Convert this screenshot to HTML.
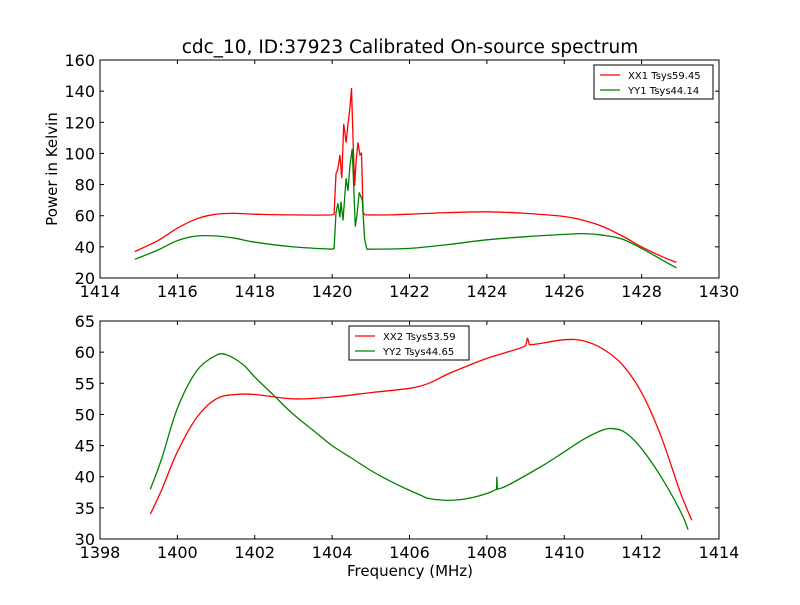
<!DOCTYPE html>
<html><head><meta charset="utf-8"><style>
body{margin:0;background:#fff}
svg{font-family:"DejaVu Sans","Liberation Sans",sans-serif}
</style></head><body>
<svg id="c" width="800" height="600">
<rect width="800" height="600" fill="#fff"/>
<text x="410" y="53" font-size="18.5" text-anchor="middle">cdc_10, ID:37923 Calibrated On-source spectrum</text>
<text x="57" y="169" font-size="15" text-anchor="middle" transform="rotate(-90 57 169)">Power in Kelvin</text>
<text x="410" y="576" font-size="15" text-anchor="middle">Frequency (MHz)</text>
<g id="g"></g>
</svg>
<script>
const topRedX=[1414.9,1415.5,1416,1416.5,1417,1417.5,1418,1419,1420,1420.05,1420.1,1420.15,1420.2,1420.25,1420.3,1420.36,1420.41,1420.46,1420.5,1420.54,1420.58,1420.62,1420.67,1420.72,1420.76,1420.8,1420.85,1420.9,1421.5,1422,1423,1424,1425,1426,1426.5,1427,1427.5,1428,1428.5,1428.9];
const topRedY=[37,44,52,58,61,61.5,61,60.5,60.5,61,87,90,99,84,119,107,119,129,142,110,79,95,107,99,100,62,60.5,60.5,60.5,61,62,62.5,61.5,59.5,57,53,47,40,34,30];
const topGrnX=[1414.9,1415.5,1416,1416.5,1417,1417.5,1418,1419,1420,1420.05,1420.1,1420.15,1420.2,1420.23,1420.28,1420.36,1420.41,1420.46,1420.52,1420.6,1420.64,1420.7,1420.78,1420.84,1420.9,1421,1422,1423,1424,1425,1426,1426.5,1427,1427.5,1428,1428.5,1428.9];
const topGrnY=[32,38,44,47,47,45.5,43,40,38.5,39,62,68,59,69,57,84,76,92,103,53,60,75,70,45,38.5,38.5,39,41.5,44.5,46.5,48,48.5,47.5,45,39,32,26.5];
const botRedX=[1399.3,1399.6,1400,1400.5,1401,1401.5,1402,1403,1404,1405,1406,1406.5,1407,1408,1409,1409.05,1409.1,1410,1410.5,1411,1411.5,1412,1412.5,1413,1413.3];
const botRedY=[34,38,44,49.5,52.5,53.2,53.2,52.5,52.8,53.5,54.2,55,56.5,59,61,62.3,61.2,62,61.8,60.5,58,53.5,46.5,37.5,33];
const botGrnX=[1399.3,1399.6,1400,1400.5,1401,1401.3,1401.7,1402,1402.5,1403,1403.5,1404,1404.5,1405,1405.5,1406,1406.3,1406.5,1407,1407.5,1408,1408.25,1408.26,1408.27,1408.5,1409,1409.5,1410,1410.5,1411,1411.3,1411.6,1412,1412.5,1413,1413.2];
const botGrnY=[38,43,51,57,59.5,59.5,58,56,53,50,47.5,45,43,41,39.3,37.8,37,36.5,36.2,36.5,37.3,38,40,38,38.5,40.2,42,44,46,47.5,47.7,47,44.5,40,34.5,31.5];
const topXTicks=[1414,1416,1418,1420,1422,1424,1426,1428,1430];
const topYTicks=[20,40,60,80,100,120,140,160];
const botXTicks=[1398,1400,1402,1404,1406,1408,1410,1412,1414];
const botYTicks=[30,35,40,45,50,55,60,65];
const NS="http://www.w3.org/2000/svg",g=document.getElementById('g');
function mk(t,a,p){const e=document.createElementNS(NS,t);for(const k in a)e.setAttribute(k,a[k]);(p||g).appendChild(e);return e;}
function smooth(P){
  // Catmull-Rom for segments wider than 6px, straight for narrow ones
  let d='M'+P[0][0].toFixed(1)+','+P[0][1].toFixed(1);
  for(let i=0;i<P.length-1;i++){
    const p0=P[Math.max(0,i-1)],p1=P[i],p2=P[i+1],p3=P[Math.min(P.length-1,i+2)];
    if(p2[0]-p1[0]<6){d+='L'+p2[0].toFixed(1)+','+p2[1].toFixed(1);continue;}
    const c1=[p1[0]+(p2[0]-p0[0])/6,p1[1]+(p2[1]-p0[1])/6],c2=[p2[0]-(p3[0]-p1[0])/6,p2[1]-(p3[1]-p1[1])/6];
    if(p2[0]-p0[0]<14){c1[0]=p1[0];c1[1]=p1[1];}
    if(p3[0]-p1[0]<14){c2[0]=p2[0];c2[1]=p2[1];}
    d+='C'+c1.map(v=>v.toFixed(1))+' '+c2.map(v=>v.toFixed(1))+' '+p2[0].toFixed(1)+','+p2[1].toFixed(1);
  }
  return d;
}
function panel(name,L,T,R,B,x0,x1,y0,y1,xt,yt,series,leg){
  const sx=v=>L+(v-x0)/(x1-x0)*(R-L),sy=v=>B-(v-y0)/(y1-y0)*(B-T);
  const pg=mk('g',{});
  
  
  series.forEach(s=>{
    const P=s.x.map((v,i)=>[sx(v),sy(s.y[i])]);
    const p=mk('path',{d:smooth(P),fill:'none',stroke:s.c,'stroke-width':1.3},pg);
    
    
  });
  const fr=mk('rect',{x:L,y:T,width:R-L,height:B-T,fill:'none',stroke:'#000'},pg);
  
  
  xt.forEach(v=>{const x=sx(v);mk('line',{x1:x,x2:x,y1:B,y2:B-4,stroke:'#000'},pg);mk('line',{x1:x,x2:x,y1:T,y2:T+4,stroke:'#000'},pg);
    const t=mk('text',{x:x,y:B+19,'font-size':16,'text-anchor':'middle'},pg);t.textContent=v;
    
    });
  yt.forEach(v=>{const y=sy(v);mk('line',{x1:L,x2:L+4,y1:y,y2:y,stroke:'#000'},pg);mk('line',{x1:R,x2:R-4,y1:y,y2:y,stroke:'#000'},pg);
    const t=mk('text',{x:L-5,y:y+6,'font-size':16,'text-anchor':'end'},pg);t.textContent=v;
    
    });
  const lg=mk('g',{},pg);
  
  
  mk('rect',{x:leg[0],y:leg[1],width:leg[2],height:34,fill:'#fff',stroke:'#000'},lg);
  series.forEach((s,i)=>{const y=leg[1]+10+i*15;
    mk('line',{x1:leg[0]+6,x2:leg[0]+26,y1:y,y2:y,stroke:s.c,'stroke-width':1.2},lg);
    const t=mk('text',{x:leg[0]+34,y:y+4,'font-size':10},lg);t.textContent=s.l;
    
    });
}
panel('top',100,60,719,278,1414,1430,20,160,topXTicks,topYTicks,
 [{x:topRedX,y:topRedY,c:'#f00',n:'xx1-line',l:'XX1 Tsys59.45'},{x:topGrnX,y:topGrnY,c:'#008000',n:'yy1-line',l:'YY1 Tsys44.14'}],[594,65,119]);
panel('bottom',100,321,719,539,1398,1414,30,65,botXTicks,botYTicks,
 [{x:botRedX,y:botRedY,c:'#f00',n:'xx2-line',l:'XX2 Tsys53.59'},{x:botGrnX,y:botGrnY,c:'#008000',n:'yy2-line',l:'YY2 Tsys44.65'}],[349,326,120]);
</script>
</body></html>
